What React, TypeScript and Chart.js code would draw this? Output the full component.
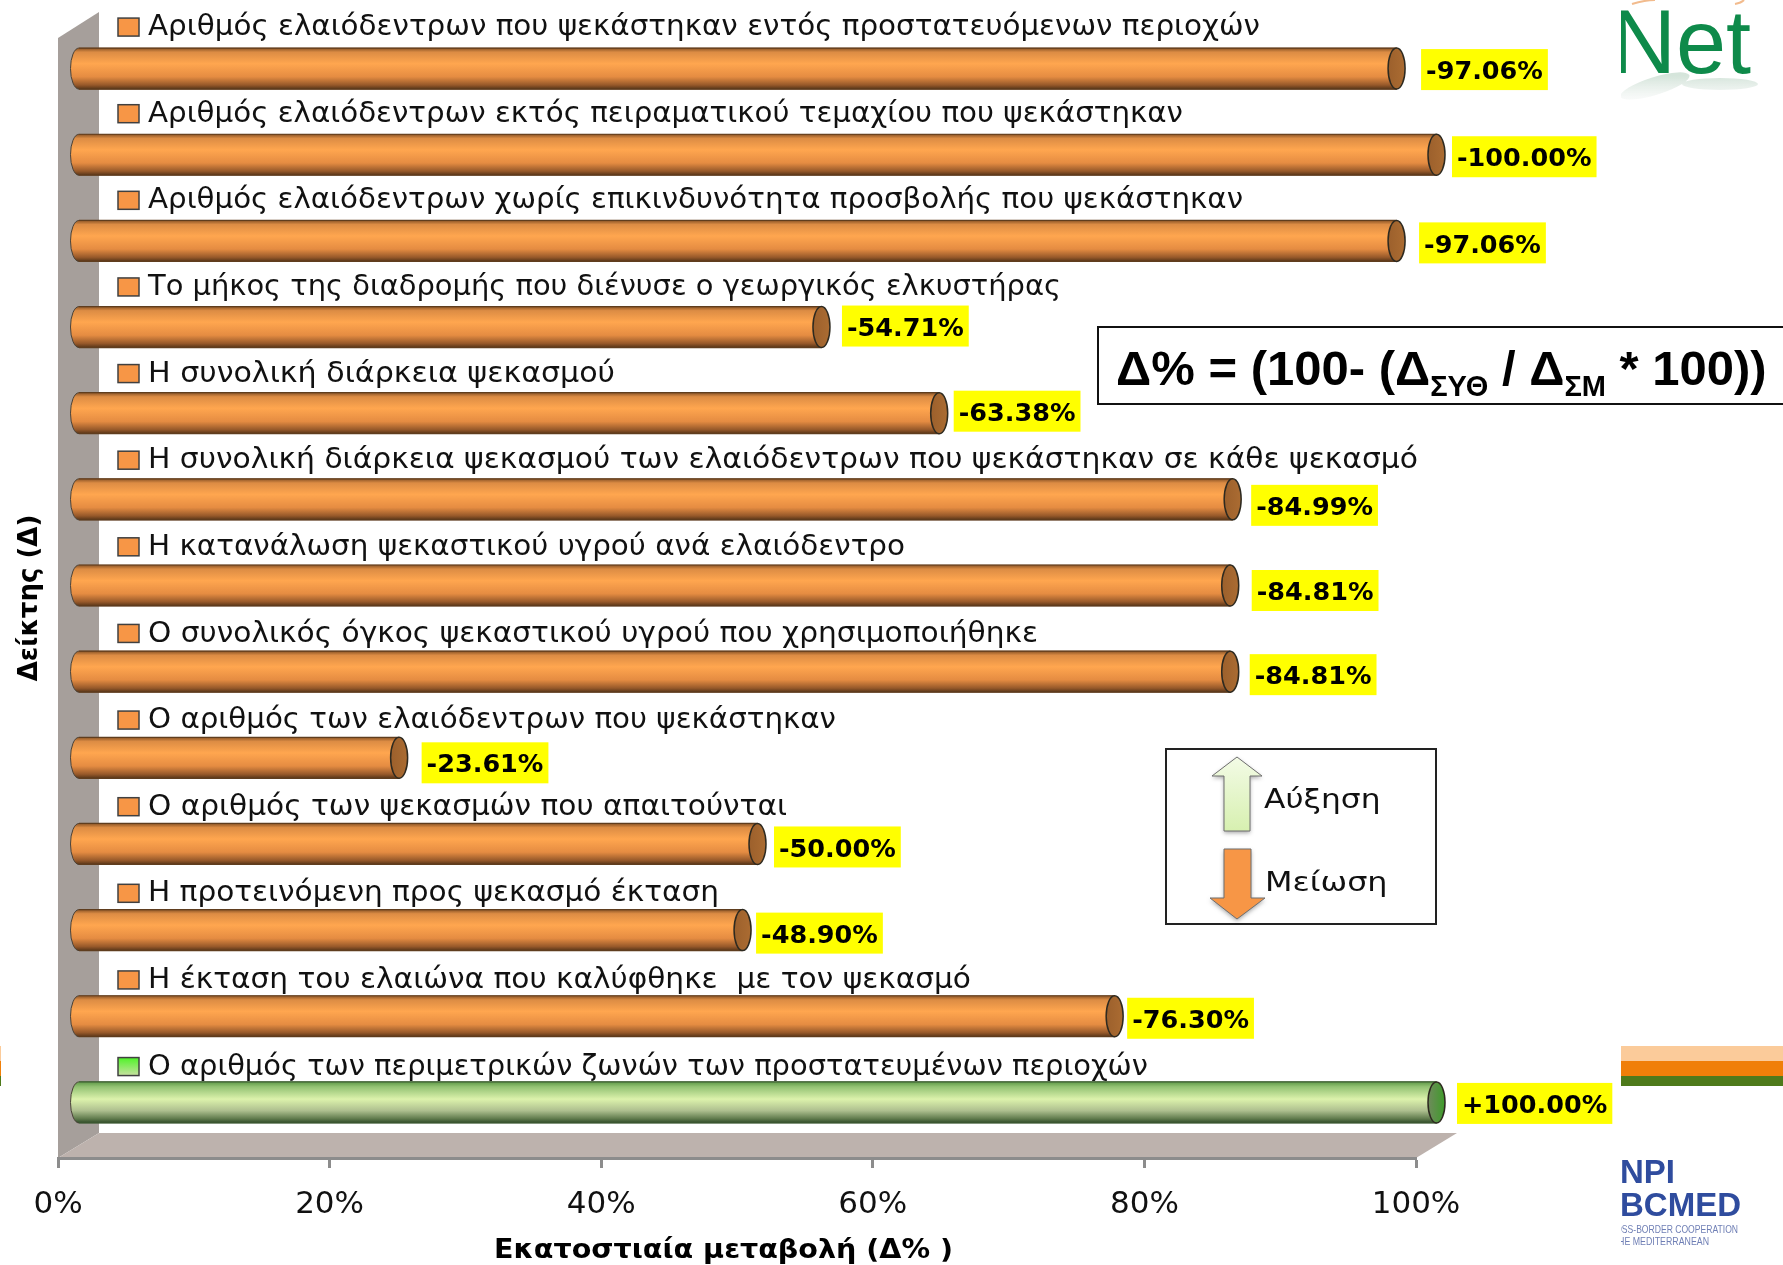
import React, { useEffect, useRef } from "react";
import { Chart, registerables } from "chart.js";

Chart.register(...registerables);

// Indicators, top row first
const indicators = [
  "Αριθμός ελαιόδεντρων που ψεκάστηκαν εντός προστατευόμενων περιοχών",
  "Αριθμός ελαιόδεντρων εκτός πειραματικού τεμαχίου που ψεκάστηκαν",
  "Αριθμός ελαιόδεντρων χωρίς επικινδυνότητα προσβολής που ψεκάστηκαν",
  "Το μήκος της διαδρομής που διένυσε ο γεωργικός ελκυστήρας",
  "Η συνολική διάρκεια ψεκασμού",
  "Η συνολική διάρκεια ψεκασμού των ελαιόδεντρων που ψεκάστηκαν σε κάθε ψεκασμό",
  "Η κατανάλωση ψεκαστικού υγρού ανά ελαιόδεντρο",
  "Ο συνολικός όγκος ψεκαστικού υγρού που χρησιμοποιήθηκε",
  "Ο αριθμός των ελαιόδεντρων που ψεκάστηκαν",
  "Ο αριθμός των ψεκασμών που απαιτούνται",
  "Η προτεινόμενη προς ψεκασμό έκταση",
  "Η έκταση του ελαιώνα που καλύφθηκε  με τον ψεκασμό",
  "Ο αριθμός των περιμετρικών ζωνών των προστατευμένων περιοχών",
];

// Signed percentage change per indicator
const changes = [-97.06, -100, -97.06, -54.71, -63.38, -84.99, -84.81, -84.81, -23.61, -50, -48.9, -76.3, 100];

// Hand placement of the value tags: gap after the cylinder, drop below its centre
const tagGaps = [16, 7, 14, 12, 6, 10, 13, 11, 14, 8, 5, 4, 12];
const tagDrops = [1, 2, 2, -1, -2, 6, 5, 3, 5, 3, 3, 2, 1];

// Set width of each category name
const labelWidths = [1112, 1035, 1095, 913, 467, 1270, 757, 890, 688, 639, 571, 823, 1000];

const X_AXIS_TITLE = "Εκατοστιαία μεταβολή (Δ% )";
const Y_AXIS_TITLE = "Δείκτης (Δ)";
const KEY_UP = "Αύξηση";
const KEY_DOWN = "Μείωση";

const DEPTH_X = 41;
const DEPTH_Y = 25;
const CAP_RX = 8.5;
const LABEL_X = 148;
const LABEL_RISE = 53;
const LABEL_DRIFT = 0.47;
const TEXT_FONT = '"DejaVu Sans", sans-serif';
const ARIAL = '"Liberation Sans", sans-serif';

const isUp = (i: number) => changes[i] > 0;

function cylinderGradient(ctx: CanvasRenderingContext2D, yc: number, h: number, up: boolean) {
  const g = ctx.createLinearGradient(0, yc - h / 2, 0, yc + h / 2);
  const stops = up
    ? [[0, "#5f9a48"], [0.12, "#93c273"], [0.42, "#dcf2ac"], [0.7, "#aebf8f"], [0.9, "#5f7a4c"], [1, "#2f4a28"]]
    : [[0, "#8a5426"], [0.1, "#dc8c44"], [0.38, "#ffa64f"], [0.7, "#e58c42"], [0.9, "#97592a"], [1, "#573518"]];
  stops.forEach(([o, c]) => g.addColorStop(o as number, c as string));
  return g;
}

// Text scaled along x only, for captions set in a broader face
function fillWide(ctx: CanvasRenderingContext2D, text: string, x: number, y: number, sx: number) {
  ctx.save();
  ctx.translate(x, y);
  ctx.scale(sx, 1);
  ctx.fillText(text, 0, 0);
  ctx.restore();
}

// Back wall and floor of the 3D box, painted under the axes
const boxPlugin = {
  id: "box",
  beforeDraw(chart: Chart) {
    const { ctx, chartArea: a } = chart;
    ctx.save();
    ctx.fillStyle = "#a69f9b";
    ctx.beginPath();
    ctx.moveTo(a.left, a.top);
    ctx.lineTo(a.left + DEPTH_X, a.top - DEPTH_Y - 1);
    ctx.lineTo(a.left + DEPTH_X, a.bottom - DEPTH_Y);
    ctx.lineTo(a.left, a.bottom);
    ctx.closePath();
    ctx.fill();
    ctx.fillStyle = "#bdb2ad";
    ctx.beginPath();
    ctx.moveTo(a.left, a.bottom);
    ctx.lineTo(a.left + DEPTH_X, a.bottom - DEPTH_Y);
    ctx.lineTo(a.right + DEPTH_X, a.bottom - DEPTH_Y);
    ctx.lineTo(a.right, a.bottom);
    ctx.closePath();
    ctx.fill();
    ctx.restore();
  },
};

// Shifts the bars to the middle of the box depth and gives them cylinder caps
const cylinderPlugin = {
  id: "cylinder",
  beforeDatasetsDraw(chart: Chart) {
    const { ctx } = chart;
    ctx.save();
    ctx.translate(DEPTH_X / 2, -DEPTH_Y / 2);
    chart.getDatasetMeta(0).data.forEach((bar: any, i: number) => {
      ctx.fillStyle = cylinderGradient(ctx, bar.y, bar.height, isUp(i));
      ctx.strokeStyle = "#4a4238";
      ctx.lineWidth = 1;
      ctx.beginPath();
      ctx.ellipse(bar.base, bar.y, CAP_RX, bar.height / 2, 0, Math.PI / 2, (3 * Math.PI) / 2);
      ctx.fill();
      ctx.stroke();
    });
  },
  afterDatasetsDraw(chart: Chart) {
    const { ctx } = chart;
    chart.getDatasetMeta(0).data.forEach((bar: any, i: number) => {
      const top = bar.y - bar.height / 2;
      const bottom = bar.y + bar.height / 2;
      ctx.strokeStyle = isUp(i) ? "#3c5a32" : "#5f3d1e";
      ctx.lineWidth = 1.2;
      ctx.beginPath();
      ctx.moveTo(bar.base, top);
      ctx.lineTo(bar.x, top);
      ctx.moveTo(bar.base, bottom);
      ctx.lineTo(bar.x, bottom);
      ctx.stroke();

      const cap = ctx.createLinearGradient(bar.x - CAP_RX, 0, bar.x + CAP_RX, 0);
      if (isUp(i)) {
        cap.addColorStop(0, "#6f8a5c");
        cap.addColorStop(1, "#3e9c2a");
      } else {
        cap.addColorStop(0, "#9c602c");
        cap.addColorStop(1, "#ab6c32");
      }
      ctx.fillStyle = cap;
      ctx.strokeStyle = "#2e2a20";
      ctx.lineWidth = 1.5;
      ctx.beginPath();
      ctx.ellipse(bar.x, bar.y, CAP_RX, bar.height / 2, 0, 0, Math.PI * 2);
      ctx.fill();
      ctx.stroke();

      // Value tag on a yellow ground
      const text = `${changes[i] > 0 ? "+" : "-"}${Math.abs(changes[i]).toFixed(2)}%`;
      ctx.font = `bold 25.5px ${TEXT_FONT}`;
      const w = ctx.measureText(text).width + 10;
      const tx = bar.x + CAP_RX + tagGaps[i];
      const ty = bar.y + tagDrops[i];
      ctx.fillStyle = "#ffff00";
      ctx.fillRect(tx, ty - 20.5, w, 41);
      ctx.fillStyle = "#000";
      ctx.textAlign = "left";
      ctx.textBaseline = "middle";
      ctx.fillText(text, tx + 5, ty + 3);
    });
    ctx.restore();

    // Category names above their cylinders, each with a key swatch
    const y = chart.scales.y as any;
    y.getLabels().forEach((label: string, i: number) => {
      const cy = y.getPixelForValue(i) - LABEL_RISE + i * LABEL_DRIFT;
      const sw = ctx.createLinearGradient(0, cy - 9, 0, cy + 9);
      if (isUp(i)) {
        sw.addColorStop(0, "#55f22e");
        sw.addColorStop(1, "#cfe0a8");
      } else {
        sw.addColorStop(0, "#f79646");
        sw.addColorStop(1, "#f79646");
      }
      ctx.fillStyle = sw;
      ctx.strokeStyle = "#404040";
      ctx.lineWidth = 1.5;
      ctx.fillRect(118, cy - 10, 21, 18);
      ctx.strokeRect(118, cy - 10, 21, 18);

      ctx.fillStyle = "#111";
      ctx.font = `27.5px ${TEXT_FONT}`;
      ctx.textAlign = "left";
      ctx.textBaseline = "middle";
      fillWide(ctx, label, LABEL_X, cy, labelWidths[i] / ctx.measureText(label).width);
    });
  },
};

function arrow(ctx: CanvasRenderingContext2D, pts: number[][], fill: CanvasGradient | string) {
  ctx.save();
  ctx.shadowColor = "rgba(0,0,0,0.35)";
  ctx.shadowBlur = 4;
  ctx.shadowOffsetY = 2;
  ctx.fillStyle = fill;
  ctx.strokeStyle = "#6f6f6f";
  ctx.lineWidth = 1;
  ctx.beginPath();
  pts.forEach(([x, y], i) => (i ? ctx.lineTo(x, y) : ctx.moveTo(x, y)));
  ctx.closePath();
  ctx.fill();
  ctx.shadowColor = "transparent";
  ctx.stroke();
  ctx.restore();
}

// Formula box, increase/decrease key, x-axis caption and the slide furniture
const overlayPlugin = {
  id: "overlay",
  afterDraw(chart: Chart) {
    const { ctx } = chart;
    ctx.save();

    ctx.fillStyle = "#000";
    ctx.font = `bold 27px ${TEXT_FONT}`;
    ctx.textAlign = "left";
    ctx.textBaseline = "middle";
    fillWide(ctx, X_AXIS_TITLE, 494, 1251, 459 / ctx.measureText(X_AXIS_TITLE).width);

    // Formula
    ctx.fillStyle = "#fff";
    ctx.fillRect(1098, 327, 700, 77);
    ctx.strokeStyle = "#111";
    ctx.lineWidth = 2;
    ctx.strokeRect(1098, 327, 700, 77);
    ctx.fillStyle = "#000";
    ctx.textAlign = "left";
    ctx.textBaseline = "alphabetic";
    let fx = 1116;
    const parts: [string, boolean][] = [
      ["Δ% = (100- (Δ", false],
      ["ΣΥΘ", true],
      [" / Δ", false],
      ["ΣΜ", true],
      [" * 100))", false],
    ];
    parts.forEach(([t, sub]) => {
      ctx.font = sub ? `bold 29px ${ARIAL}` : `bold 49px ${ARIAL}`;
      ctx.fillText(t, fx, sub ? 396 : 385);
      fx += ctx.measureText(t).width;
    });

    // Increase / decrease key
    ctx.fillStyle = "#fff";
    ctx.fillRect(1166, 749, 270, 175);
    ctx.strokeStyle = "#222";
    ctx.lineWidth = 2;
    ctx.strokeRect(1166, 749, 270, 175);
    const upFill = ctx.createLinearGradient(0, 757, 0, 831);
    upFill.addColorStop(0, "#f3fbe6");
    upFill.addColorStop(1, "#d7f0b0");
    arrow(ctx, [[1237, 757], [1262, 776], [1250, 776], [1250, 831], [1224, 831], [1224, 776], [1212, 776]], upFill);
    arrow(ctx, [[1224, 849], [1251, 849], [1251, 898], [1265, 898], [1237, 919], [1210, 898], [1224, 898]], "#f79646");
    ctx.fillStyle = "#111";
    ctx.font = `27px ${TEXT_FONT}`;
    ctx.textBaseline = "middle";
    fillWide(ctx, KEY_UP, 1264, 801, 1.16);
    fillWide(ctx, KEY_DOWN, 1265, 884, 1.18);

    // Footer stripes
    [[1046, 15, "#fbcb9a"], [1061, 15, "#f07f09"], [1076, 10, "#4e7a1b"]].forEach(([y, h, c]) => {
      ctx.fillStyle = c as string;
      ctx.fillRect(1621, y as number, 162, h as number);
      ctx.fillRect(0, y as number, 1, h as number);
    });

    // Partner logos, cropped on their left side
    ctx.save();
    ctx.beginPath();
    ctx.rect(1621, 0, 162, 1265);
    ctx.clip();

    const haze = ctx.createLinearGradient(0, 76, 0, 106);
    haze.addColorStop(0, "rgba(150,190,165,0.4)");
    haze.addColorStop(1, "rgba(200,210,205,0)");
    ctx.fillStyle = haze;
    ctx.beginPath();
    ctx.ellipse(1655, 86, 36, 9, -0.3, 0, Math.PI * 2);
    ctx.ellipse(1720, 84, 38, 6, 0, 0, Math.PI * 2);
    ctx.fill();

    ctx.strokeStyle = "rgba(235,150,80,0.65)";
    ctx.lineWidth = 2;
    ctx.beginPath();
    ctx.moveTo(1632, 4);
    ctx.quadraticCurveTo(1645, 0, 1655, 0);
    ctx.moveTo(1735, 4);
    ctx.quadraticCurveTo(1741, 3, 1744, 0);
    ctx.stroke();

    ctx.fillStyle = "#0e8a4a";
    ctx.font = `90px ${ARIAL}`;
    ctx.textBaseline = "alphabetic";
    ctx.textAlign = "left";
    ctx.fillText("Net", 1611, 73);

    ctx.fillStyle = "#2f4c9e";
    ctx.font = `bold 33px ${ARIAL}`;
    ctx.fillText("NPI", 1620, 1183);
    ctx.fillText("BCMED", 1620, 1216);
    ctx.fillStyle = "#6f7fb5";
    ctx.font = `11px ${ARIAL}`;
    ctx.textAlign = "right";
    fillWide(ctx, "CROSS-BORDER COOPERATION", 1738, 1233, 0.78);
    fillWide(ctx, "IN THE MEDITERRANEAN", 1709, 1245, 0.8);
    ctx.restore();

    ctx.restore();
  },
};

export default function App() {
  const ref = useRef<HTMLCanvasElement>(null);

  useEffect(() => {
    const chart = new Chart(ref.current!, {
      type: "bar",
      data: {
        labels: indicators,
        datasets: [
          {
            data: changes.map((v) => Math.abs(v)),
            barThickness: 41,
            clip: false,
            backgroundColor: (c: any) => {
              const { chart: ch, dataIndex } = c;
              const yc = dataIndex === undefined ? NaN : ch.scales.y?.getPixelForValue(dataIndex);
              if (!Number.isFinite(yc)) return "#f79646";
              return cylinderGradient(ch.ctx, yc, 41, isUp(dataIndex));
            },
            borderWidth: 0,
          } as any,
        ],
      },
      options: {
        indexAxis: "y",
        responsive: false,
        animation: false,
        layout: { padding: { left: 0, top: 38, right: 367, bottom: 0 } },
        plugins: { legend: { display: false }, tooltip: { enabled: false } },
        scales: {
          x: {
            min: 0,
            max: 100,
            afterFit: (s: any) => {
              s.height = 107;
            },
            border: { display: true, color: "#8c8c8c", width: 3 },
            grid: { drawOnChartArea: false, drawTicks: true, tickLength: 10, tickColor: "#8c8c8c", tickWidth: 3 },
            ticks: {
              stepSize: 20,
              maxRotation: 0,
              padding: 18,
              color: "#111",
              font: { family: TEXT_FONT, size: 31 },
              callback: (v: any) => `${v}%`,
            },
          },
          y: {
            afterFit: (s: any) => {
              s.width = 58;
              s.paddingTop = 0;
              s.paddingBottom = 0;
            },
            border: { display: false },
            grid: { display: false, drawTicks: false },
            title: {
              display: true,
              text: Y_AXIS_TITLE,
              color: "#000",
              font: { family: TEXT_FONT, size: 26, weight: "bold" },
              padding: { top: 15, bottom: 0 },
            },
            ticks: { display: false },
          },
        },
      },
      plugins: [boxPlugin, cylinderPlugin, overlayPlugin],
    } as any);
    return () => chart.destroy();
  }, []);

  return (
    <canvas
      ref={ref}
      width={1783}
      height={1265}
      style={{ position: "absolute", left: 0, top: 0, width: 1783, height: 1265, display: "block" }}
    />
  );
}
